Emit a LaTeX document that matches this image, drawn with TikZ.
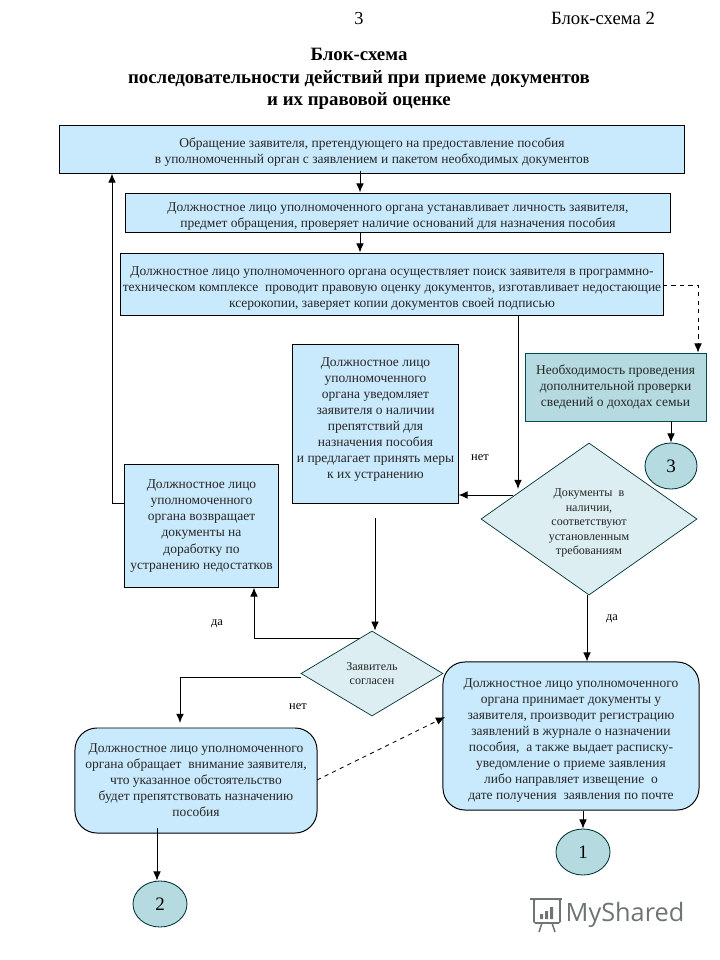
\documentclass[tikz,border=0pt]{standalone}
\usepackage{fontspec}
\setmainfont{Liberation Serif}
\newfontfamily\logofont{Open Sans}
\usetikzlibrary{shapes.geometric,arrows.meta}
\definecolor{boxblue}{HTML}{C9E9FC}
\definecolor{boxteal}{HTML}{B5DBE0}
\definecolor{diamondpale}{HTML}{DCEEF2}
\definecolor{logogray}{HTML}{6E7472}
\tikzset{
  boxtext/.style={font=\fontsize{9.6}{11.4}\selectfont,align=center,inner sep=0pt,text=black!85},
  rectbox/.style={boxtext,draw,fill=boxblue,line width=0.7pt},
  roundbox/.style={rectbox,rounded corners=0.55cm},
  notebox/.style={boxtext,draw=teal!60!black,fill=boxteal,line width=0.6pt},
  question/.style={boxtext,diamond,draw=teal!40!black,fill=diamondpale,line width=0.5pt,
    font=\fontsize{8.6}{10.4}\selectfont},
  krug/.style={ellipse,draw=teal!40!black,fill=boxteal,inner sep=0pt,line width=0.6pt,
    font=\fontsize{13.5}{16}\selectfont},
  arr/.style={-{Latex[length=6.5pt,width=5.5pt]},line width=0.7pt},
  dasharr/.style={arr,dashed,line width=0.6pt},
  answer/.style={font=\fontsize{8.8}{10}\selectfont,inner sep=0pt}
}
\begin{document}
\begin{tikzpicture}[x=0.025cm,y=-0.025cm]
  \useasboundingbox (0,0) rectangle (720,960);

  % Page header and title
  \node[font=\fontsize{13}{15}\selectfont] (pagenum) at (359,19) {3};
  \node[font=\fontsize{13.3}{15}\selectfont] (pagename) at (603,18) {Блок-схема 2};
  \node[font=\fontsize{13.4}{16}\selectfont\bfseries,align=center] (title) at (359,79)
    {Блок-схема\\последовательности действий при приеме документов\\и их правовой оценке};

  % Upper boxes
  \node[rectbox,minimum width=15.6cm,minimum height=1.2cm] (obrasch) at (372,149)
    {\mbox{}\\Обращение заявителя, претендующего на предоставление пособия\\
     в уполномоченный орган с заявлением и пакетом необходимых документов};
  \node[rectbox,minimum width=13.6cm,minimum height=0.975cm] (lico) at (398,212.5)
    {\mbox{}\\Должностное лицо уполномоченного органа устанавливает личность заявителя,\\
     предмет обращения, проверяет наличие оснований для назначения пособия};
  \node[rectbox,minimum width=13.55cm,minimum height=1.55cm] (poisk) at (392,284)
    {\mbox{}\\[1.5pt]Должностное лицо уполномоченного органа осуществляет поиск заявителя в программно-\\
     техническом комплексе\ \ проводит правовую оценку документов, изготавливает недостающие\\
     ксерокопии, заверяет копии документов своей подписью};

  % Middle row
  \node[rectbox,minimum width=4.125cm,minimum height=3.95cm] (uvedom) at (375.5,424)
    {Должностное лицо\\уполномоченного\\органа уведомляет\\заявителя о наличии\\препятствий для\\
     назначения пособия\\и предлагает принять меры\\к их устранению\\[-3pt]\mbox{}};
  \node[notebox,minimum width=4.525cm,minimum height=1.7cm] (neobh) at (615.5,387)
    {Необходимость проведения\\дополнительной проверки\\сведений о доходах семьи};
  \node[krug,minimum width=1.3cm,minimum height=1.15cm] (krug3) at (671,466) {3};
  \node[question,inner sep=-6pt,minimum width=5.4cm,minimum height=3.8cm] (doki) at (589,519)
    {\mbox{}\\[1pt]Документы\ \ в\\наличии,\\соответствуют\\установленным\\требованиям};
  \node[rectbox,minimum width=3.825cm,minimum height=3.05cm] (vozvrat) at (201.5,526)
    {Должностное лицо\\уполномоченного\\органа возвращает\\документы на\\доработку по\\
     устранению недостатков};

  % Lower part
  \node[question,minimum width=3.55cm,minimum height=2.125cm] (soglasen) at (372,673.5)
    {Заявитель\\согласен};
  \node[roundbox,minimum width=6.4cm,minimum height=3.7cm] (prinim) at (571,736)
    {\mbox{}\\[1.5pt]Должностное лицо уполномоченного\\органа принимает документы у\\заявителя, производит регистрацию\\
     заявлений в журнале о назначении\\пособия,\ \ а также выдает расписку-\\уведомление о приеме заявления\\
     либо направляет извещение\ \ о\\дате получения\ \ заявления по почте};
  \node[roundbox,minimum width=6.05cm,minimum height=2.625cm] (vniman) at (196,780.5)
    {Должностное лицо уполномоченного\\органа обращает\ \ внимание заявителя,\\что указанное обстоятельство\\
     будет препятствовать назначению\\пособия};
  \node[krug,minimum width=1.35cm,minimum height=1.15cm] (krug1) at (583,852) {1};
  \node[krug,minimum width=1.35cm,minimum height=1.15cm] (krug2) at (160,904) {2};

  % Answers
  \node[answer] (netdoki) at (480,458) {нет};
  \node[answer] (dadoki) at (612,619) {да};
  \node[answer] (dasogl) at (217,624) {да};
  \node[answer] (netsogl) at (298,707) {нет};

  % Connectors
  \draw[arr] (obrasch.south -| 360,0) ++(0,-3) -- (lico.north -| 360,0);
  \draw[arr] (lico.south -| 360,0) -- (poisk.north -| 360,0);
  \coordinate (dokivhod) at (518,489);
  \draw[arr] (poisk.south -| dokivhod) -- (dokivhod);
  \coordinate (dokivyhod) at (513,495);
  \draw[arr] (dokivyhod) -- (uvedom.east |- dokivyhod);
  \coordinate (uvedomvyhod) at (375,518);
  \draw[arr] (uvedomvyhod) -- (soglasen.north -| uvedomvyhod);
  \coordinate (soglda) at (360,638);
  \draw[arr] (soglda) -| (vozvrat.south -| 254,0);
  \coordinate (soglnet) at (301,677);
  \draw[arr] (soglnet) -| (180,723);
  \coordinate (vozvratvyhod) at (125,503);
  \draw[arr] (vozvratvyhod) -| (obrasch.south -| 112,0);
  \draw[arr] (neobh.south -| krug3) -- (krug3.north);
  \draw[arr] (doki.south -| 587,0) -- (prinim.north -| 587,0);
  \draw[arr] (prinim.south -| krug1) -- (krug1.north);
  \draw[arr] (vniman.south -| 157,0) ++(0,-6) -- (krug2.north -| 157,0);

  % Dashed connectors
  \coordinate (poiskvyhod) at (663,285);
  \draw[dasharr] (poiskvyhod) -| (neobh.north -| 698,0);
  \coordinate (vnimanvyhod) at (317,780);
  \coordinate (prinimvhod) at (445,717);
  \draw[dasharr] (vnimanvyhod) -- (prinimvhod);

  % Site mark
  \node[font=\logofont\fontsize{18}{22}\selectfont,text=logogray,inner sep=0pt] (logotext) at (625,915) {MyShared};
  \draw[logogray,line width=1.1pt,rounded corners=1pt] (534,899) rectangle (560,923);
  \draw[logogray,line width=1.1pt] (530,899) -- (562,899);
  \draw[logogray,line width=1.1pt] (542,923) -- (539,932) (552,923) -- (555,932);
  \fill[logogray] (540,914) rectangle (543,919) (545,911) rectangle (548,919) (550,907) rectangle (553,919);
\end{tikzpicture}
\end{document}
